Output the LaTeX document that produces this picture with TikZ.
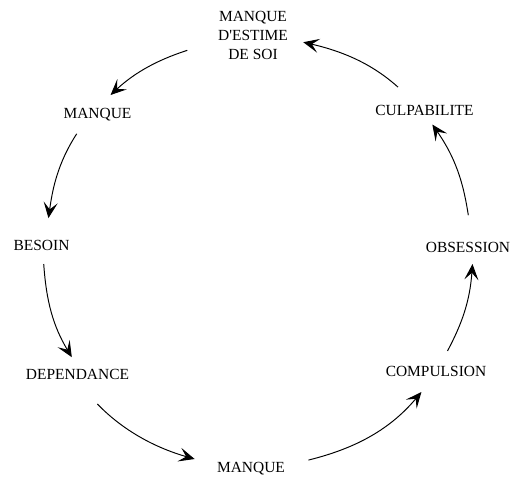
\documentclass[tikz,border=0pt]{standalone}
\usepackage{fontspec}
\setmainfont{Liberation Serif}[Ligatures=TeXOff]
\usepackage{tikz}
\usetikzlibrary{arrows.meta}
\tikzstyle{texte} =
        [
                inner sep = 3pt,
                font = \fontsize{8.8}{10.8}\selectfont
        ]
\tikzstyle{etat} =
        [
                texte,
                text height = 0.7em,
                text depth = 0.2em
        ]
\tikzstyle{line} =
        [
                draw,
                line width = 0.55pt,
                -{Stealth[length = 9pt, width = 8pt, inset = 4pt]}
        ]

\begin{document}
\begin{tikzpicture}[x = 0.02cm, y = 0.02cm]
	        \useasboundingbox (0,0) rectangle (513,480);
	        \node [texte, align = center] (estime) at (253,445) {MANQUE\\D'ESTIME\\DE SOI};
	        \node [etat] (manque1) at (97.5,366) {MANQUE};
	        \node [etat] (besoin) at (41.5,234) {BESOIN};
	        \node [etat] (dependance) at (77.5,105) {DEPENDANCE};
	        \node [etat] (manque2) at (251,12) {MANQUE};
	        \node [etat] (compulsion) at (436,108) {COMPULSION};
	        \node [etat] (obsession) at (468,232) {OBSESSION};
	        \node [etat] (culpabilite) at (424.5,369) {CULPABILITE};
	        \path [line, shorten <= 0.53cm, shorten >= 0.16cm] (estime.190) to [out = 198, in = 43] (manque1.62);
	        \path [line, shorten <= 0.15cm, shorten >= 0.29cm] (manque1.219) to [out = 237, in = 82] (besoin.70);
	        \path [line, shorten <= 0.09cm, shorten >= 0.1cm] (besoin.278) to [out = 274, in = 121] (dependance.103);
	        \path [line, shorten <= 0.43cm, shorten >= 0.35cm] (dependance.290) to [out = 314, in = 164] (manque2.174);
	        \path [line, shorten <= 0.37cm, shorten >= 0.17cm] (manque2.5) to [out = 14, in = 230] (compulsion.236);
	        \path [line, shorten <= 0.17cm, shorten >= 0.05cm] (compulsion.61) to [out = 62, in = 266] (obsession.289);
	        \path [line, shorten <= 0.39cm] (obsession.76) to [out = 99, in = 305] (culpabilite.300);
	        \path [line, shorten <= 0.31cm, shorten >= 0.2cm] (culpabilite.138) to [out = 138, in = 347] (estime.353);
\end{tikzpicture}
\end{document}
